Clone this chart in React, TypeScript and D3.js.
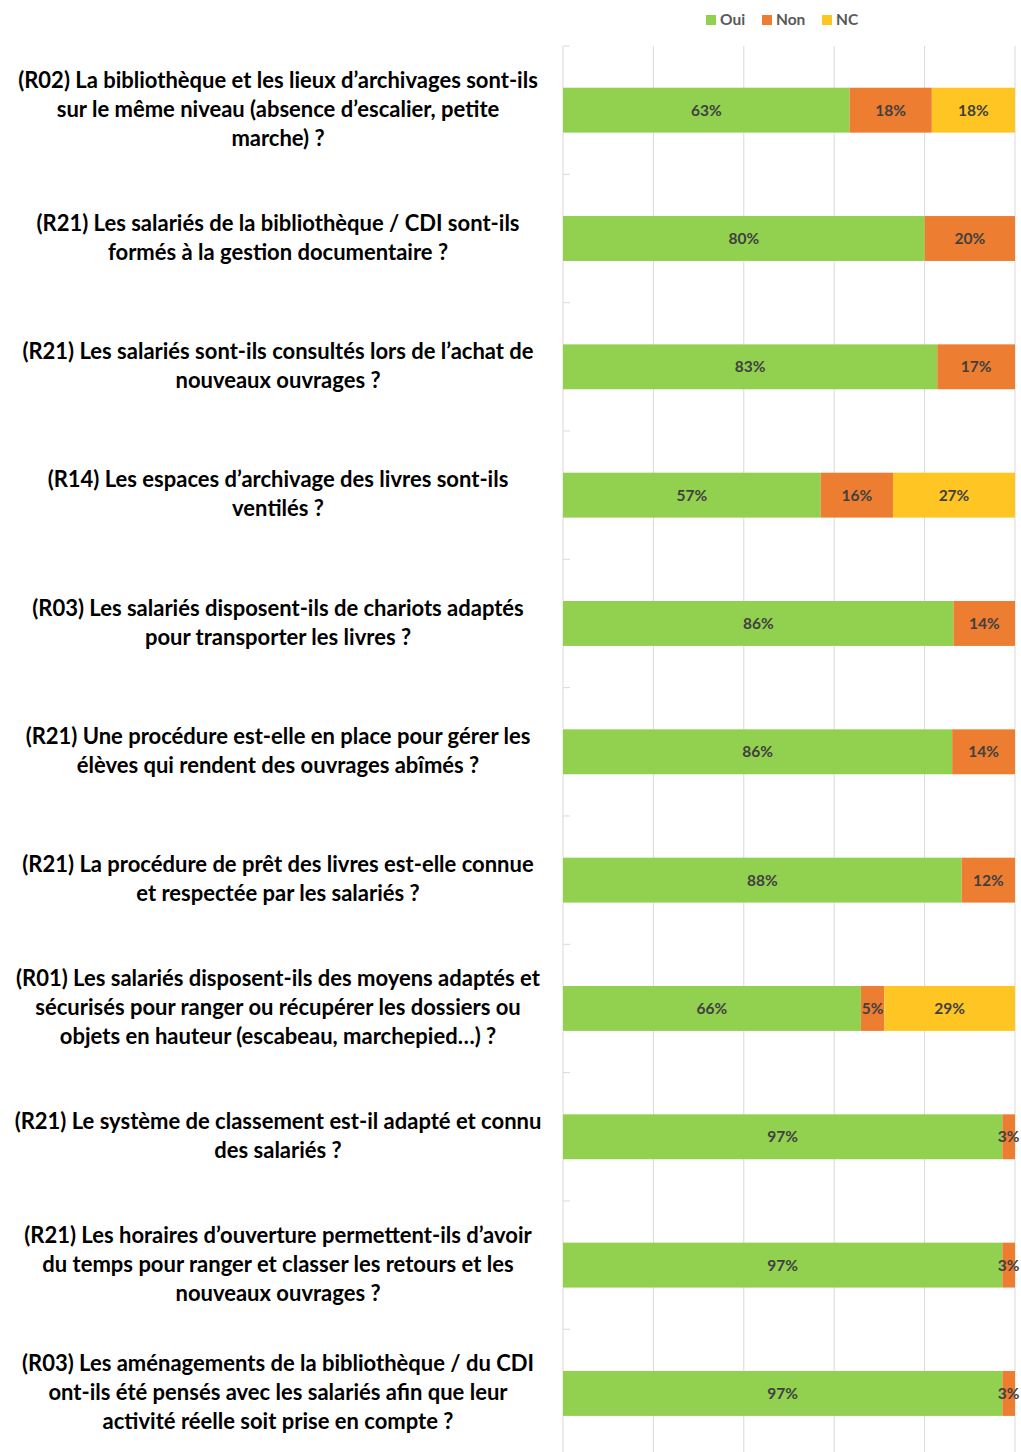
import React from 'react'
import * as d3 from 'd3'

const questions = [
  ['(R02) La bibliothèque et les lieux d’archivages sont-ils', 'sur le même niveau (absence d’escalier, petite', 'marche) ?'],
  ['(R21) Les salariés de la bibliothèque / CDI sont-ils', 'formés à la gestion documentaire ?'],
  ['(R21) Les salariés sont-ils consultés lors de l’achat de', 'nouveaux ouvrages ?'],
  ['(R14) Les espaces d’archivage des livres sont-ils', 'ventilés ?'],
  ['(R03) Les salariés disposent-ils de chariots adaptés', 'pour transporter les livres ?'],
  ['(R21) Une procédure est-elle en place pour gérer les', 'élèves qui rendent des ouvrages abîmés ?'],
  ['(R21) La procédure de prêt des livres est-elle connue', 'et respectée par les salariés ?'],
  ['(R01) Les salariés disposent-ils des moyens adaptés et', 'sécurisés pour ranger ou récupérer les dossiers ou', 'objets en hauteur (escabeau, marchepied…) ?'],
  ['(R21) Le système de classement est-il adapté et connu', 'des salariés ?'],
  ['(R21) Les horaires d’ouverture permettent-ils d’avoir', 'du temps pour ranger et classer les retours et les', 'nouveaux ouvrages ?'],
  ['(R03) Les aménagements de la bibliothèque / du CDI', 'ont-ils été pensés avec les salariés afin que leur', 'activité réelle soit prise en compte ?'],
]

// share of answers per question
const oui = [0.634, 0.8, 0.828, 0.57, 0.864, 0.861, 0.882, 0.659, 0.972, 0.972, 0.972]
const non = [0.182, 0.2, 0.172, 0.16, 0.136, 0.139, 0.118, 0.052, 0.028, 0.028, 0.028]
const nc = [0.184, 0, 0, 0.27, 0, 0, 0, 0.289, 0, 0, 0]

const seriesNames = ['Oui', 'Non', 'NC']
const seriesColors = ['#92D050', '#ED7D31', '#FFC623']

const W = 1021
const H = 1452

export default function App() {
  const rows = questions.map((q, i) => ({ id: String(i), oui: oui[i], non: non[i], nc: nc[i] }))
  const stacked = d3.stack<any>().keys(['oui', 'non', 'nc'])(rows)

  const x = d3.scaleLinear().domain([0, 1]).range([563, 1015])
  const y = d3
    .scaleBand()
    .domain(rows.map((r) => r.id))
    .range([46, 1457.6])
    .paddingInner(0.65)
    .paddingOuter(0.325)

  const step = y.step()
  const grid = x.ticks(5)
  const font = 'Lato, "Open Sans", sans-serif'

  return (
    <svg width={W} height={H} style={{ position: 'absolute', left: 0, top: 0, background: '#fff' }} fontFamily={font}>
      {/* gridlines */}
      {grid.map((t) => (
        <line key={t} x1={x(t)} x2={x(t)} y1={46} y2={H} stroke="#d9d9d9" strokeWidth={1} />
      ))}
      {/* category ticks */}
      {rows.map((r) => {
        const ty = (y(r.id) as number) - (step - y.bandwidth()) / 2
        return <line key={r.id} x1={563} x2={570} y1={ty} y2={ty} stroke="#d9d9d9" />
      })}

      {/* bars */}
      {stacked.map((s, si) => (
        <g key={s.key} fill={seriesColors[si]}>
          {s.map((d, i) => {
            const w = x(d[1]) - x(d[0])
            if (w <= 0) return null
            return <rect key={i} x={x(d[0])} y={y(String(i))} width={w} height={y.bandwidth()} />
          })}
        </g>
      ))}

      {/* value labels */}
      {stacked.map((s) => (
        <g key={s.key + 'l'} fill="#404040" fontSize={15.5} fontWeight={700} textAnchor="middle">
          {s.map((d, i) => {
            const v = d[1] - d[0]
            if (v <= 0) return null
            return (
              <text key={i} x={(x(d[0]) + x(d[1])) / 2} y={(y(String(i)) as number) + y.bandwidth() / 2} dy="0.35em">
                {Math.round(v * 100)}%
              </text>
            )
          })}
        </g>
      ))}

      {/* question labels */}
      {questions.map((lines, i) => {
        const cy = (y(String(i)) as number) + y.bandwidth() / 2
        const lh = 29
        const top = cy - ((lines.length - 1) * lh) / 2 - 1
        return (
          <text key={i} x={278} textAnchor="middle" fontSize={22} fontWeight={700} fill="#000">
            {lines.map((l, j) => (
              <tspan key={j} x={278} y={top + j * lh} dy="0.35em">
                {l}
              </tspan>
            ))}
          </text>
        )
      })}

      {/* legend */}
      <g fontSize={15.5} fontWeight={700} fill="#595959">
        {seriesNames.map((n, i) => {
          const lx = [706, 762, 822][i]
          return (
            <g key={n}>
              <rect x={lx} y={15} width={10} height={10} fill={seriesColors[i]} />
              <text x={lx + 14} y={20} dy="0.35em">
                {n}
              </text>
            </g>
          )
        })}
      </g>
    </svg>
  )
}
